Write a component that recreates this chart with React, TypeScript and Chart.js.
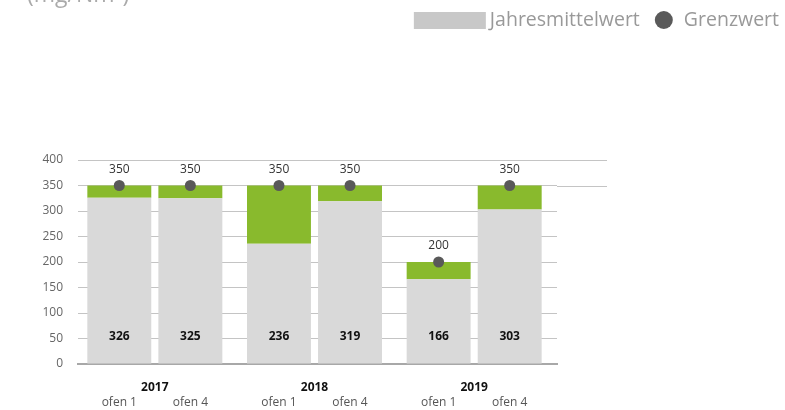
import React, { useEffect, useRef } from "react";
import { Chart, registerables } from "chart.js";

Chart.register(...registerables);

const years = ["2017", "2018", "2019"];
const ovenNames = ["ofen 1", "ofen 4"];
const ofen1Mean = [326, 236, 166];
const ofen4Mean = [325, 319, 303];
const ofen1Limit = [350, 350, 200];
const ofen4Limit = [350, 350, 350];
const yTicks = [0, 50, 100, 150, 200, 250, 300, 350, 400];
const unitLabel = "(mg/Nm³)";
const legendMean = "Jahresmittelwert";
const legendLimit = "Grenzwert";

const GRAY = "#d9d9d9";
const GREEN = "#89ba2d";
const DOT = "#595959";
const FONT = "'Open Sans', 'DejaVu Sans', sans-serif";

export default function App() {
  const ref = useRef<HTMLCanvasElement | null>(null);

  useEffect(() => {
    const canvas = ref.current;
    if (!canvas) return;
    const means = [ofen1Mean, ofen4Mean];
    const limits = [ofen1Limit, ofen4Limit];

    const datasets: any[] = [];
    means.forEach((m, k) => {
      datasets.push({
        label: legendMean,
        data: m,
        backgroundColor: GRAY,
        stack: "s" + k,
        categoryPercentage: 0.89,
        barPercentage: 0.9,
      });
      datasets.push({
        label: "diff",
        data: m.map((v, i) => limits[k][i] - v),
        backgroundColor: GREEN,
        stack: "s" + k,
        categoryPercentage: 0.89,
        barPercentage: 0.9,
      });
    });

    const overlay = {
      id: "overlay",
      beforeDatasetsDraw(chart: any) {
        const { ctx, chartArea, scales } = chart;
        ctx.save();
        ctx.strokeStyle = "#c4c4c4";
        ctx.lineWidth = 1;
        [350, 400].forEach((v) => {
          const y = Math.round(scales.y.getPixelForValue(v)) + 0.5;
          ctx.beginPath();
          ctx.moveTo(chartArea.right, y);
          ctx.lineTo(chartArea.right + 50, y);
          ctx.stroke();
        });
        ctx.restore();
      },
      afterDraw(chart: any) {
        const { ctx, scales } = chart;
        const y0 = scales.y.getPixelForValue(0);
        ctx.save();
        [0, 1].forEach((k) => {
          const meta = chart.getDatasetMeta(k * 2 + 1);
          meta.data.forEach((bar: any, i: number) => {
            const x = bar.x;
            const ly = scales.y.getPixelForValue(limits[k][i]);
            ctx.fillStyle = DOT;
            ctx.beginPath();
            ctx.arc(x, ly, 5.5, 0, Math.PI * 2);
            ctx.fill();
            ctx.fillStyle = "#333";
            ctx.font = `12px ${FONT}`;
            ctx.textAlign = "center";
            ctx.textBaseline = "middle";
            ctx.fillText(String(limits[k][i]), x, ly - 16);
            ctx.fillStyle = "#111";
            ctx.font = `bold 12px ${FONT}`;
            ctx.fillText(String(means[k][i]), x, y0 - 27);
            ctx.fillStyle = "#555";
            ctx.font = `12px ${FONT}`;
            ctx.fillText(ovenNames[k], x, y0 + 39);
          });
        });
        years.forEach((yr, i) => {
          const x = scales.x.getPixelForValue(i) - 3;
          ctx.fillStyle = "#111";
          ctx.font = `bold 12px ${FONT}`;
          ctx.textAlign = "center";
          ctx.textBaseline = "middle";
          ctx.fillText(yr, x, y0 + 24);
        });
        ctx.fillStyle = "#aaa";
        ctx.font = `23px ${FONT}`;
        ctx.textAlign = "left";
        ctx.textBaseline = "alphabetic";
        ctx.fillText(unitLabel, 27, 2);
        ctx.font = `19.5px ${FONT}`;
        ctx.textBaseline = "middle";
        const ly = 20;
        let xr = 779;
        const w2 = ctx.measureText(legendLimit).width;
        ctx.fillStyle = "#999";
        ctx.fillText(legendLimit, xr - w2, ly);
        xr = xr - w2 - 20;
        ctx.fillStyle = "#5a5a5a";
        ctx.beginPath();
        ctx.arc(xr, ly, 9, 0, Math.PI * 2);
        ctx.fill();
        xr = xr - 24;
        const w1 = ctx.measureText(legendMean).width;
        ctx.fillStyle = "#999";
        ctx.fillText(legendMean, xr - w1, ly);
        xr = xr - w1 - 4;
        ctx.fillStyle = "#c8c8c8";
        ctx.fillRect(xr - 72, 12, 72, 17);
        ctx.restore();
      },
    };

    const shiftBars = {
      id: "shiftBars",
      afterDatasetsUpdate(chart: any) {
        chart.data.datasets.forEach((_: any, di: number) => {
          chart.getDatasetMeta(di).data.forEach((bar: any) => {
            bar.x -= 3;
          });
        });
      },
    };

    const chart = new Chart(canvas, {
      type: "bar",
      data: { labels: years, datasets },
      options: {
        animation: false,
        responsive: false,
        maintainAspectRatio: false,
        layout: { padding: { top: 160, right: 228, bottom: 46, left: 0 } },
        plugins: { legend: { display: false }, tooltip: { enabled: false } },
        scales: {
          x: {
            stacked: true,
            grid: { display: false, drawTicks: false },
            border: { display: true, color: "#a8a8a8", width: 2 },
            ticks: { display: false },
          },
          y: {
            stacked: true,
            min: 0,
            max: 400,
            afterBuildTicks: (s: any) => {
              s.ticks = yTicks.map((v) => ({ value: v }));
            },
            afterFit: (s: any) => {
              s.width = 78;
            },
            grid: { color: "#c4c4c4", drawTicks: false, lineWidth: 1 },
            border: { display: false },
            ticks: {
              padding: 15,
              color: "#666",
              font: { size: 12, family: FONT },
            },
          },
        },
      },
      plugins: [shiftBars, overlay],
    });
    return () => chart.destroy();
  }, []);

  return (
    <div style={{ position: "fixed", left: 0, top: 0, width: 785, height: 410, background: "#fff" }}>
      <canvas ref={ref} width={785} height={410} style={{ width: 785, height: 410 }} />
    </div>
  );
}
